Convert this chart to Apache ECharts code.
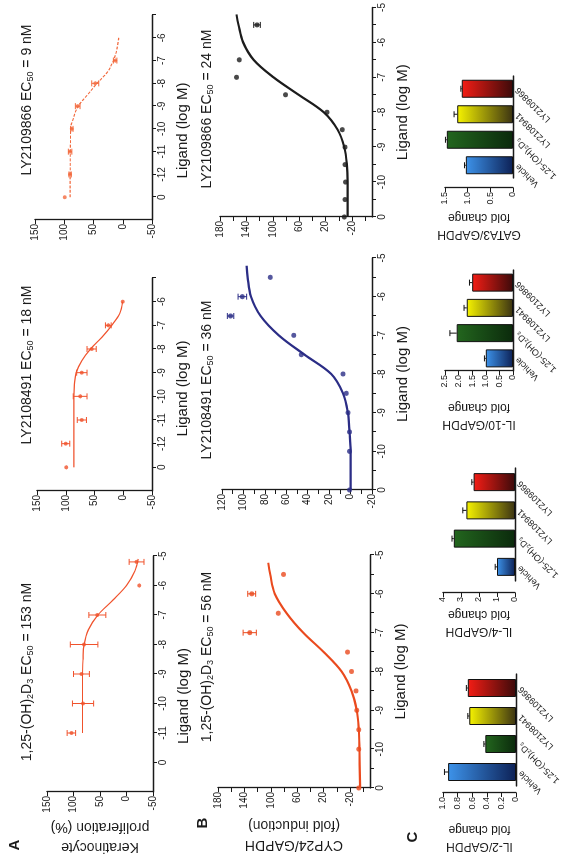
<!DOCTYPE html>
<html>
<head>
<meta charset="utf-8">
<script src="https://cdn.jsdelivr.net/npm/echarts@6.0.0/dist/echarts.min.js"></script>
<style>
html, body { margin: 0; padding: 0; background: #fff; overflow: hidden; }
/* the figure is drawn upright (859 x 571) and then turned a quarter to the left */
#turn { position: absolute; left: 0; top: 0; width: 859px; height: 571px;
        transform-origin: 0 0; transform: translateY(859px) rotate(-90deg); }
#main { width: 859px; height: 571px; }
</style>
</head>
<body>
<div id="turn"><div id="main"></div></div>
<script>
// ---- A: keratinocyte proliferation (%), log M of ligand (vehicle drawn as "0")
var a1X = [-11, -10, -9, -8, -7, -6, -5.2];
var a1Y = [104, 82, 85, 80, 55, -24, -19];
var a1Err = [8, 20, 15, 26, 16, 0, 14];
var a1FitX = [-11, -10, -9, -8.5, -8, -7.5, -7, -6.5, -6, -5.5, -5.1];
var a1FitY = [83, 83, 83, 82, 80, 72, 54, 26, 0, -16, -22];

var a2X = [-13, -12, -11, -10, -9, -8, -7, -6];
var a2Y = [99, 100, 72, 75, 72, 55, 26, 1];
var a2Err = [0, 7, 8, 12, 9, 8, 5, 0];
var a2FitX = [-13, -10, -9.5, -9, -8.5, -8, -7.5, -7, -6.5, -6];
var a2FitY = [86, 86, 85, 82, 72, 57, 37, 20, 6, 1];

var a3X = [-13, -12, -11, -10, -9, -8, -7];
var a3Y = [99, 90, 90, 87, 77, 47, 13];
var a3Err = [0, 2, 3, 2, 4, 6, 3];
var a3FitX = [-13, -10, -9.5, -9, -8.5, -8, -7.5, -7, -6.5, -6];
var a3FitY = [90, 89, 84, 76, 60, 44, 26, 16, 10, 7];

// ---- B: CYP24/GAPDH fold induction
var b1X = [-11, -10, -9.5, -9, -8.5, -8, -7.5, -7, -6.5, -6, -5.5];
var b1Y = [-33, -33, -33, -30, -29, -22, -16, 132, 89, 129, 81];
var b1Err = [0, 0, 0, 0, 0, 0, 0, 10, 0, 6, 0];
var b1FitX = [-11, -10, -9.5, -9, -8.5, -8, -7.5, -7, -6.5, -6, -5.5, -5.2];
var b1FitY = [-35, -34, -33, -30, -22, -7, 20, 51, 76, 94, 101, 104];

var b2X = [-11, -10, -9.5, -9, -8.5, -8, -7.5, -7, -6.5, -6, -5.5];
var b2Y = [1, 1, 1, 2.5, 4, 7, 46, 53, 112, 101, 75];
var b2Err = [0, 0, 0, 0, 0, 0, 0, 0, 3, 4, 0];
var b2FitX = [-11, -10, -9.5, -9, -8.5, -8, -7.5, -7, -6.5, -6, -5.5, -5.2];
var b2FitY = [0, 0, 1, 2.5, 7, 18, 43, 67, 84, 93, 96, 97];

var b3X = [-11, -10.5, -10, -9.5, -9, -8.5, -8, -7.5, -7, -6.5, -5.5];
var b3Y = [-8, -9, -10, -9, -9, -5, 18, 81, 155, 151, 124];
var b3Err = [0, 0, 0, 0, 0, 0, 0, 0, 0, 0, 5];
var b3FitX = [-11, -10, -9.5, -9, -8.5, -8, -7.5, -7, -6.5, -6, -5.5, -5.2];
var b3FitY = [-13, -13, -12, -8, 2, 23, 61, 99, 129, 145, 152, 155];

// ---- C: fold change bars
var cCats = ['Vehicle', '1,25-(OH)₂D₃', 'LY2108941', 'LY2109866'];
var il2 = [0.93, 0.42, 0.64, 0.66];
var il2Err = [0.05, 0.02, 0.02, 0.02];
var il4 = [1.0, 3.4, 2.7, 2.3];
var il4Err = [0.1, 0.1, 0.2, 0.1];
var il10 = [1.0, 2.07, 1.7, 1.5];
var il10Err = [0.05, 0.25, 0.1, 0.1];
var gata3 = [1.04, 1.46, 1.23, 1.13];
var gata3Err = [0.03, 0.03, 0.07, 0.02];

// tick values
var ligA1Ticks = [-12, -11, -10, -9, -8, -7, -6, -5];
var ligA23Ticks = [-13, -12, -11, -10, -9, -8, -7, -6, -5];
var ligBTicks = [-11, -10.5, -10, -9.5, -9, -8.5, -8, -7.5, -7, -6.5, -6, -5.5, -5];
var ligBLabels = [-11, -10, -9, -8, -7, -6, -5];
var prolTicks = [-50, 0, 50, 100, 150];
var cypWideTicks = [-40, -20, 0, 20, 40, 60, 80, 100, 120, 140, 160, 180];
var cypWideLabels = [-20, 20, 60, 100, 140, 180];
var cypMidTicks = [-20, -10, 0, 10, 20, 30, 40, 50, 60, 70, 80, 90, 100, 110, 120];
var cypMidLabels = [-20, 0, 20, 40, 60, 80, 100, 120];
var il2Ticks = [0, 0.2, 0.4, 0.6, 0.8, 1.0];
var il4Ticks = [0, 1, 2, 3, 4];
var il10Ticks = [0, 0.5, 1.0, 1.5, 2.0, 2.5];
var gata3Ticks = [0, 0.5, 1.0, 1.5];

var FONT = '"Liberation Sans", Arial, sans-serif';
var INK = '#1a1a1a';

function pairs(xs, ys) {
  return xs.map(function (x, i) { return [x, ys[i]]; });
}

function errBars(idx, xs, ys, es, color, upOnly) {
  var d = [];
  xs.forEach(function (x, i) {
    if (es[i] > 0) d.push([x, upOnly ? ys[i] : ys[i] - es[i], ys[i] + es[i]]);
  });
  return {
    type: 'custom', xAxisIndex: idx, yAxisIndex: idx, z: 4, silent: true,
    data: d,
    encode: { x: 0, y: [1, 2] },
    renderItem: function (params, api) {
      var lo = api.coord([api.value(0), api.value(1)]);
      var hi = api.coord([api.value(0), api.value(2)]);
      var w = 3;
      var st = { stroke: color, lineWidth: 1 };
      var kids = [
        { type: 'line', shape: { x1: lo[0], y1: lo[1], x2: hi[0], y2: hi[1] }, style: st },
        { type: 'line', shape: { x1: hi[0] - w, y1: hi[1], x2: hi[0] + w, y2: hi[1] }, style: st }
      ];
      if (!upOnly) kids.push({ type: 'line', shape: { x1: lo[0] - w, y1: lo[1], x2: lo[0] + w, y2: lo[1] }, style: st });
      return { type: 'group', children: kids };
    }
  };
}

function doseSeries(idx, xs, ys, es, fx, fy, color, lw, size, dash) {
  return [
    { type: 'line', xAxisIndex: idx, yAxisIndex: idx, data: pairs(fx, fy), smooth: 0.35,
      showSymbol: false, lineStyle: { color: color, width: lw, type: dash || 'solid' }, z: 2, silent: true },
    { type: 'scatter', xAxisIndex: idx, yAxisIndex: idx, data: pairs(xs, ys),
      symbolSize: size, itemStyle: { color: color }, z: 5, silent: true },
    errBars(idx, xs, ys, es, color, false)
  ];
}

function ligandAxis(idx, min, max, ticks, labels, zeroAt, hideMax, shift) {
  return {
    type: 'value', gridIndex: idx, min: min, max: max,
    name: 'Ligand (log M)', nameLocation: 'middle', nameGap: 23,
    nameTextStyle: { fontFamily: FONT, fontSize: 15, color: INK, padding: [0, shift || 0, 0, 0] },
    axisLine: { onZero: false, lineStyle: { color: INK, width: 1.3 } },
    axisTick: { customValues: ticks, length: 4, lineStyle: { color: INK } },
    axisLabel: {
      customValues: labels, fontFamily: FONT, fontSize: 10, color: INK, margin: 5,
      formatter: function (v) {
        if (v === zeroAt) return '0';
        if (hideMax && v === max) return '';
        return String(v);
      }
    },
    splitLine: { show: false }
  };
}

function valueAxis(idx, min, max, ticks, labels, name, gap, fmt) {
  return {
    type: 'value', gridIndex: idx, min: min, max: max,
    name: name, nameLocation: 'middle', nameRotate: 90, nameGap: gap,
    nameTextStyle: { fontFamily: FONT, fontSize: 14, color: INK, lineHeight: 20 },
    axisLine: { show: true, onZero: false, lineStyle: { color: INK, width: 1.3 } },
    axisTick: { show: true, customValues: ticks, length: 4, lineStyle: { color: INK } },
    axisLabel: { customValues: labels, fontFamily: FONT, fontSize: 10, color: INK, margin: 4,
      formatter: fmt || function (v) { return String(v); } },
    splitLine: { show: false }
  };
}

function oneDec(v) { return v === 0 ? '0' : v.toFixed(1); }

function barGrad(top, bottom) {
  return new echarts.graphic.LinearGradient(0, 0, 0, 1, [
    { offset: 0, color: top }, { offset: 1, color: bottom }
  ]);
}
var barFills = [
  barGrad('#3d93ea', '#0d2156'),
  barGrad('#23661e', '#0b2a0c'),
  barGrad('#f6f300', '#3b3312'),
  barGrad('#f41d15', '#3c0a0a')
];

function barSeries(idx, vals, errs) {
  return [
    { type: 'bar', xAxisIndex: idx, yAxisIndex: idx, barWidth: 18, silent: true,
      data: vals.map(function (v, i) {
        return { value: v, itemStyle: { color: barFills[i], borderColor: '#111', borderWidth: 1 } };
      }) },
    errBars(idx, vals.map(function (v, i) { return i; }), vals, errs, '#111', true)
  ];
}

function catAxis(idx) {
  return {
    type: 'category', gridIndex: idx, data: cCats,
    axisLine: { lineStyle: { color: INK, width: 1.3 } },
    axisTick: { alignWithLabel: true, length: 3, lineStyle: { color: INK } },
    axisLabel: { rotate: 45, interval: 0, fontFamily: FONT, fontSize: 9, color: INK, margin: 4 }
  };
}

function title(x, y, txt) {
  return {
    type: 'text', x: x, y: y,
    style: {
      text: txt, fill: INK, font: '14px ' + FONT,
      textAlign: 'center', textVerticalAlign: 'middle', align: 'center', verticalAlign: 'middle',
      rich: { s: { fontSize: 9, fontFamily: FONT, verticalAlign: 'bottom', padding: [7, 0, 0, 0] },
              n: { fontSize: 14, fontFamily: FONT } }
    }
  };
}

function letter(x, y, t) {
  return { type: 'text', x: x, y: y,
    style: { text: t, fill: INK, font: 'bold 15px ' + FONT,
      textAlign: 'center', textVerticalAlign: 'middle', align: 'center', verticalAlign: 'middle' } };
}

var grids = [
  { left: 67, top: 47, width: 236, height: 106 },   // A1
  { left: 368, top: 37, width: 213, height: 115 },  // A2
  { left: 639, top: 35, width: 205, height: 117 },  // A3
  { left: 71, top: 218, width: 233, height: 152 },  // B1
  { left: 369, top: 222, width: 232, height: 150 }, // B2
  { left: 642, top: 220, width: 210, height: 152 }, // B3
  { left: 73, top: 443, width: 112, height: 73 },   // C1
  { left: 278, top: 443, width: 113, height: 72 },  // C2
  { left: 488, top: 445, width: 101, height: 68 },  // C3
  { left: 681, top: 445, width: 102, height: 68 }   // C4
];

var xAxes = [
  ligandAxis(0, -13, -5, ligA1Ticks, ligA1Ticks, -12, false, 44),
  ligandAxis(1, -14, -5, ligA23Ticks, ligA23Ticks, -13, true, 8),
  ligandAxis(2, -14, -5, ligA23Ticks, ligA23Ticks, -13, true, 26),
  ligandAxis(3, -11, -5, ligBTicks, ligBLabels, -11, false, 0),
  ligandAxis(4, -11, -5, ligBTicks, ligBLabels, -11, false, 0),
  ligandAxis(5, -11, -5, ligBTicks, ligBLabels, -11, false, 0),
  catAxis(6), catAxis(7), catAxis(8), catAxis(9)
];

var yAxes = [
  valueAxis(0, -50, 150, prolTicks, prolTicks, 'Keratinocyte\nproliferation (%)', 20),
  valueAxis(1, -50, 150, prolTicks, prolTicks, '', 20),
  valueAxis(2, -50, 150, prolTicks, prolTicks, '', 20),
  valueAxis(3, -50, 180, cypWideTicks, cypWideLabels, 'CYP24/GAPDH\n(fold induction)', 27),
  valueAxis(4, -20, 120, cypMidTicks, cypMidLabels, '', 20),
  valueAxis(5, -50, 180, cypWideTicks, cypWideLabels, '', 20),
  valueAxis(6, 0, 1.0, il2Ticks, il2Ticks, 'IL-2/GAPDH\nfold change', 28, oneDec),
  valueAxis(7, 0, 4, il4Ticks, il4Ticks, 'IL-4/GAPDH\nfold change', 12),
  valueAxis(8, 0, 2.5, il10Ticks, il10Ticks, 'IL-10/GAPDH\nfold change', 28, oneDec),
  valueAxis(9, 0, 1.5, gata3Ticks, gata3Ticks, 'GATA3/GAPDH\nfold change', 14, oneDec)
];
yAxes[6].offset = 7;
yAxes[7].offset = 12;
yAxes[9].offset = 10;
[6, 7, 8, 9].forEach(function (i) {
  yAxes[i].nameTextStyle.fontSize = 12;
  yAxes[i].nameTextStyle.lineHeight = 17;
  yAxes[i].axisLabel.fontSize = 9;
});

var RED_A = '#f0522c';
var series = [].concat(
  doseSeries(0, a1X, a1Y, a1Err, a1FitX, a1FitY, RED_A, 1.2, 4),
  doseSeries(1, a2X, a2Y, a2Err, a2FitX, a2FitY, RED_A, 1.2, 4),
  doseSeries(2, a3X, a3Y, a3Err, a3FitX, a3FitY, '#f26a3e', 1.1, 4, [3, 1.5]),
  doseSeries(3, b1X, b1Y, b1Err, b1FitX, b1FitY, '#ea4a1e', 2.2, 5),
  doseSeries(4, b2X, b2Y, b2Err, b2FitX, b2FitY, '#2b2d86', 2.2, 5),
  doseSeries(5, b3X, b3Y, b3Err, b3FitX, b3FitY, '#1c1c1c', 2.2, 5),
  barSeries(6, il2, il2Err),
  barSeries(7, il4, il4Err),
  barSeries(8, il10, il10Err),
  barSeries(9, gata3, gata3Err)
);

var chart = echarts.init(document.getElementById('main'), null, { width: 859, height: 571 });
chart.setOption({
  animation: false,
  backgroundColor: '#fff',
  grid: grids,
  xAxis: xAxes,
  yAxis: yAxes,
  series: series,
  graphic: [
    letter(14, 15, 'A'),
    letter(36, 203, 'B'),
    letter(22, 413, 'C'),
    title(187, 27, '1,25-(OH){s|2}D{s|3} EC{s|50} = 153 nM'),
    title(494, 27, 'LY2108491 EC{s|50} = 18 nM'),
    title(759, 27, 'LY2109866 EC{s|50} = 9 nM'),
    title(202, 207, '1,25-(OH){s|2}D{s|3} EC{s|50} = 56 nM'),
    title(479, 207, 'LY2108491 EC{s|50} = 36 nM'),
    title(750, 207, 'LY2109866 EC{s|50} = 24 nM')
  ]
});
</script>
</body>
</html>
